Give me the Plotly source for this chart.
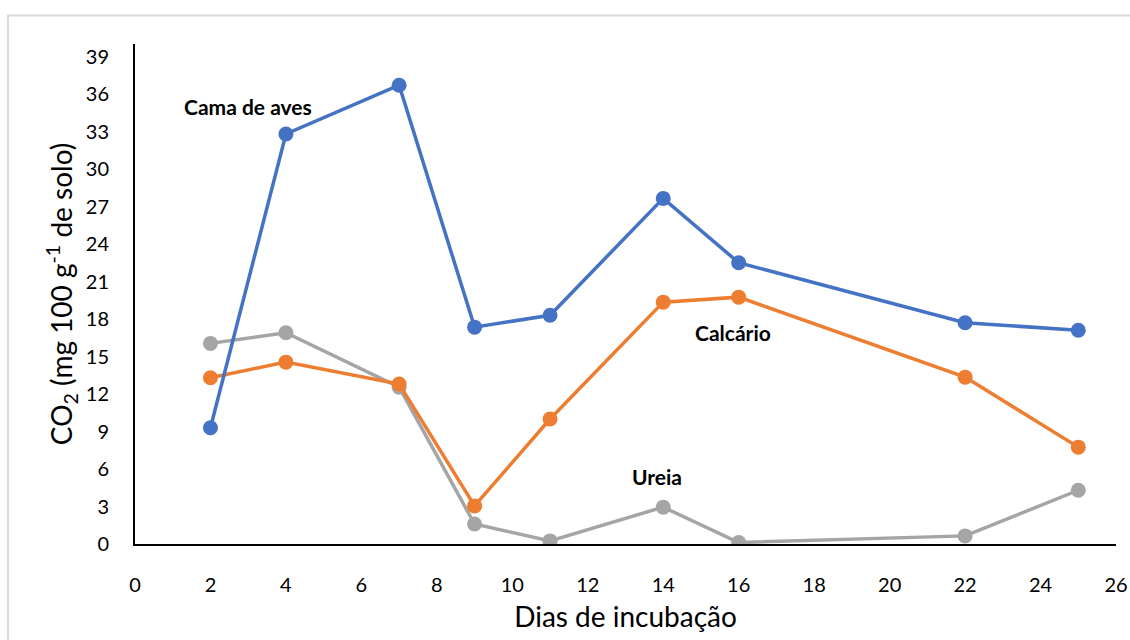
import plotly.graph_objects as go

dias = [2, 4, 7, 9, 11, 14, 16, 22, 25]
cama_de_aves = [9.3, 32.8, 36.7, 17.35, 18.3, 27.65, 22.5, 17.7, 17.1]
calcario = [13.3, 14.55, 12.8, 3.05, 10.0, 19.35, 19.75, 13.35, 7.75]
ureia = [16.05, 16.9, 12.55, 1.6, 0.25, 2.95, 0.12, 0.65, 4.3]

series = [
    ("Cama de aves", cama_de_aves, "#4472C4"),
    ("Calcário", calcario, "#ED7D31"),
    ("Ureia", ureia, "#A5A5A5"),
]

labels = [
    ("Cama de aves", 3.0, 35.0),
    ("Calcário", 15.85, 16.9),
    ("Ureia", 13.83, 5.4),
]

x_ticks = list(range(0, 27, 2))
y_ticks = list(range(0, 40, 3))

FONT = "Lato, Open Sans, sans-serif"

fig = go.Figure()
for name, vals, color in reversed(series):
    fig.add_trace(go.Scatter(
        x=dias, y=vals, name=name, mode="lines+markers",
        line=dict(color=color, width=3.5),
        marker=dict(color=color, size=15),
        showlegend=False,
    ))

for text, x, y in labels:
    fig.add_annotation(x=x, y=y, text=f"<b>{text}</b>", showarrow=False,
                       font=dict(family=FONT, size=21, color="black"))

fig.add_shape(type="rect", xref="paper", yref="paper",
              x0=-0.1295, x1=1.03, y0=-0.25, y1=1.057,
              line=dict(color="#D9D9D9", width=2), fillcolor="rgba(0,0,0,0)", layer="below")

fig.update_layout(
    width=1130, height=640,
    margin=dict(l=135, r=14, t=44, b=96, autoexpand=False),
    paper_bgcolor="white", plot_bgcolor="white",
    font=dict(family=FONT, color="black"),
    xaxis=dict(
        range=[0, 26], tickvals=x_ticks, ticktext=[str(v) for v in x_ticks],
        showgrid=False, zeroline=False, showline=True, linecolor="black", linewidth=2,
        ticks="", tickfont=dict(size=20), ticklabelstandoff=22, automargin=False,
        title=dict(text="Dias de incubação", font=dict(size=28), standoff=12),
    ),
    yaxis=dict(
        range=[0, 40], tickvals=y_ticks, ticktext=[str(v) for v in y_ticks],
        showgrid=False, zeroline=False, showline=True, linecolor="black", linewidth=2,
        ticks="", tickfont=dict(size=20), ticklabelstandoff=20, automargin=False,
        title=dict(text="CO<sub>2</sub> (mg 100 g<sup>-1</sup> de solo)", font=dict(size=28), standoff=5),
    ),
)

fig.write_html(
    "out.html",
    config={"displayModeBar": False},
    post_script="document.body.style.margin='0';document.body.style.overflow='hidden';",
)
